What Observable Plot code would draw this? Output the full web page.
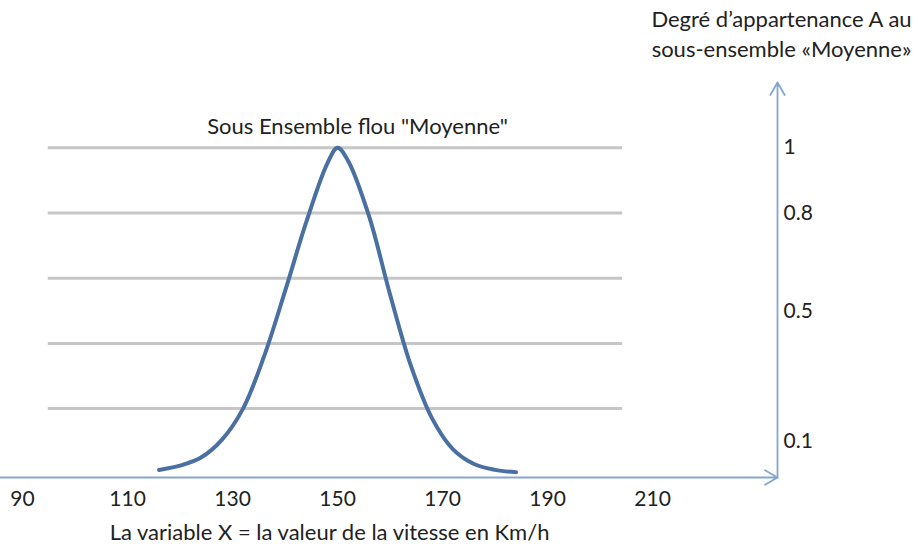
<!DOCTYPE html>
<html><head><meta charset="utf-8">
<script src="https://cdn.jsdelivr.net/npm/d3@7"></script>
<script src="https://cdn.jsdelivr.net/npm/@observablehq/plot@0.6"></script>
<style>body{margin:0;background:#fff;} #chart svg{display:block;}</style>
</head><body><div id="chart"></div>
<script>
// Curve: speed (km/h) and membership degree
const speeds =     [116,  120,  124,  128,  132,  136,  140,  144,  148,  150,  152,  156,  160,  164,  168,  172,  176,  180,  184];
const membership = [0.012,0.025,0.05, 0.105,0.2,  0.36, 0.56, 0.77, 0.95, 1.0,  0.96, 0.79, 0.55, 0.33, 0.17, 0.075,0.03, 0.012,0.005];
const xTicks = [90, 110, 130, 150, 170, 190, 210];
const gridLevels = [0.2, 0.4, 0.6, 0.8, 1];
const yTicks = [1, 0.8, 0.5, 0.1];
const xDomain = [85.8, 233.8];
const yDomain = [-0.0113, 1.2];
const gridExtent = [94.9, 204.3];
const title = 'Sous Ensemble flou "Moyenne"';
const xLabel = "La variable X = la valeur de la vitesse en Km/h";
const yLabel = "Degré d’appartenance A au\nsous-ensemble «Moyenne»";

const data = speeds.map((s, i) => ({speed: s, mu: membership[i]}));
const peak = data.reduce((a, b) => (b.mu > a.mu ? b : a));
const font = "Lato, 'Open Sans', sans-serif";
const axisColor = "#86a5cf";

const chart = Plot.plot({
  width: 918,
  height: 547,
  marginLeft: 0,
  marginRight: 141,
  marginTop: 82,
  marginBottom: 70,
  style: {fontFamily: font, color: "#222", background: "#fff"},
  x: {domain: xDomain},
  y: {domain: yDomain},
  marks: [
    Plot.ruleY(gridLevels, {y: d => d, x1: gridExtent[0], x2: gridExtent[1], stroke: "#c6c6c6", strokeWidth: 3}),
    Plot.line(data, {x: "speed", y: "mu", curve: "catmull-rom", stroke: "#4a70a2", strokeWidth: 4}),
    Plot.arrow([{x1: xDomain[0], y1: yDomain[0], x2: xDomain[1], y2: yDomain[0]}],
      {x1: "x1", y1: "y1", x2: "x2", y2: "y2", stroke: axisColor, strokeWidth: 1.8, headLength: 12, headAngle: 60}),
    Plot.arrow([{x1: xDomain[1], y1: yDomain[0], x2: xDomain[1], y2: yDomain[1]}],
      {x1: "x1", y1: "y1", x2: "x2", y2: "y2", stroke: axisColor, strokeWidth: 1.8, headLength: 12, headAngle: 60}),
    Plot.axisX({ticks: xTicks, tickSize: 0, tickPadding: 14, fontSize: 21, label: null, tickFormat: d => String(d)}),
    Plot.axisY({anchor: "right", ticks: yTicks, tickSize: 0, tickPadding: 6, fontSize: 21, label: null, tickFormat: d => String(d)}),
    Plot.text([peak], {x: "speed", y: "mu", text: () => title, dx: 20, dy: -21, fontSize: 22, fill: "#222"}),
    Plot.text([xLabel], {frameAnchor: "bottom", x: () => peak.speed, text: d => d, dy: 62, dx: -8, fontSize: 22, fill: "#222"}),
    Plot.text([yLabel], {x: () => xDomain[1], y: () => yDomain[1], text: d => d, dx: 4, dy: -26, lineAnchor: "bottom", lineHeight: 1.36, fontSize: 22, fill: "#222"})
  ]
});
document.getElementById("chart").appendChild(chart);
</script>
</body></html>
